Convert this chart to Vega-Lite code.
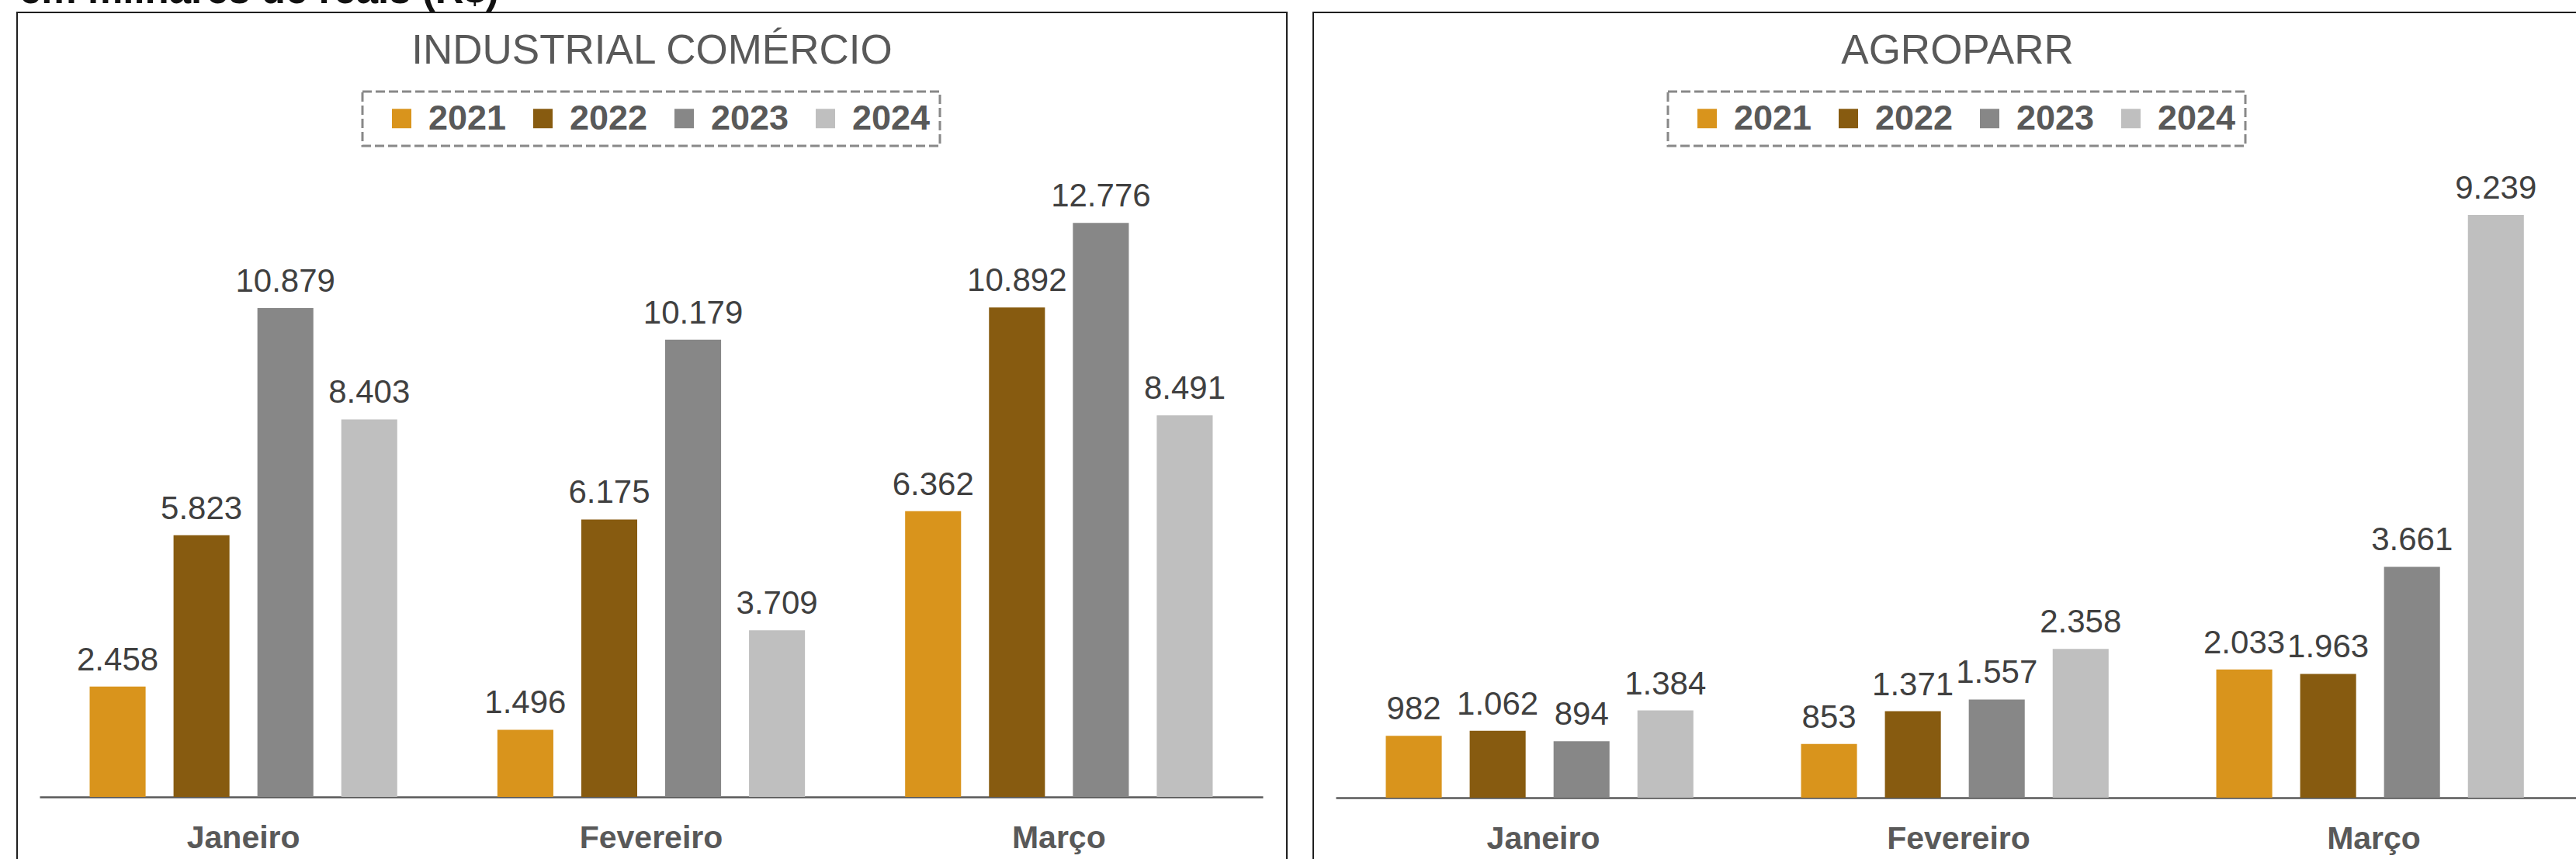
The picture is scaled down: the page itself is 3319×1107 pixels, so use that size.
{
  "$schema": "https://vega.github.io/schema/vega-lite/v6.json",
  "background": "white",
  "padding": {"left": 21, "top": -37, "right": -8, "bottom": -8},
  "spacing": 32,
  "title": {"text": "em milhares de reais (R$)", "anchor": "start", "frame": "bounds", "font": "Liberation Sans", "fontSize": 51, "fontWeight": "bold", "color": "#111111", "baseline": "alphabetic", "offset": -40, "dx": 4},
  "datasets": {
    "ind": [
      {"mes": "Janeiro", "ano": "2021", "valor": 2458},
      {"mes": "Janeiro", "ano": "2022", "valor": 5823},
      {"mes": "Janeiro", "ano": "2023", "valor": 10879},
      {"mes": "Janeiro", "ano": "2024", "valor": 8403},
      {"mes": "Fevereiro", "ano": "2021", "valor": 1496},
      {"mes": "Fevereiro", "ano": "2022", "valor": 6175},
      {"mes": "Fevereiro", "ano": "2023", "valor": 10179},
      {"mes": "Fevereiro", "ano": "2024", "valor": 3709},
      {"mes": "Março", "ano": "2021", "valor": 6362},
      {"mes": "Março", "ano": "2022", "valor": 10892},
      {"mes": "Março", "ano": "2023", "valor": 12776},
      {"mes": "Março", "ano": "2024", "valor": 8491}
    ],
    "agro": [
      {"mes": "Janeiro", "ano": "2021", "valor": 982},
      {"mes": "Janeiro", "ano": "2022", "valor": 1062},
      {"mes": "Janeiro", "ano": "2023", "valor": 894},
      {"mes": "Janeiro", "ano": "2024", "valor": 1384},
      {"mes": "Fevereiro", "ano": "2021", "valor": 853},
      {"mes": "Fevereiro", "ano": "2022", "valor": 1371},
      {"mes": "Fevereiro", "ano": "2023", "valor": 1557},
      {"mes": "Fevereiro", "ano": "2024", "valor": 2358},
      {"mes": "Março", "ano": "2021", "valor": 2033},
      {"mes": "Março", "ano": "2022", "valor": 1963},
      {"mes": "Março", "ano": "2023", "valor": 3661},
      {"mes": "Março", "ano": "2024", "valor": 9239}
    ]
  },
  "resolve": {"scale": {"color": "independent", "x": "independent", "y": "independent"}, "legend": {"color": "independent"}},
  "hconcat": [
    {
      "width": 1636,
      "height": 1100,
      "data": {"name": "ind"},
      "title": {"text": "INDUSTRIAL COMÉRCIO", "font": "Liberation Sans", "fontSize": 53, "fontWeight": "normal", "color": "#595959", "anchor": "middle", "baseline": "alphabetic", "offset": -119},
      "encoding": {
        "x": {"field": "mes", "type": "nominal", "sort": ["Janeiro", "Fevereiro", "Março"],
              "scale": {"range": [29, 1605], "paddingInner": 0, "paddingOuter": 0},
              "axis": {"title": null, "labelAngle": 0, "labelLimit": 600, "labelFont": "Liberation Sans", "labelFontSize": 41, "labelFontWeight": "bold", "labelColor": "#595959", "ticks": false, "tickSize": 0, "labelPadding": 65, "labelBaseline": "alphabetic", "domainColor": "#595959", "domainWidth": 2.5, "offset": -89, "grid": false}},
        "xOffset": {"field": "ano", "type": "nominal", "scale": {"paddingInner": 0.333, "paddingOuter": 0.597}},
        "y": {"field": "valor", "type": "quantitative", "scale": {"domain": [-1537, 17461], "nice": false}, "axis": null}
      },
      "layer": [
        {
          "mark": {"type": "bar"},
          "encoding": {
            "y2": {"datum": 0},
            "color": {"field": "ano", "type": "nominal",
                      "scale": {"domain": ["2021", "2022", "2023", "2024"], "range": ["#D9941C", "#875B10", "#878787", "#BFBFBF"]},
                      "legend": {"orient": "none", "legendX": 445, "legendY": 102, "direction": "horizontal", "title": " ", "titleOrient": "left", "titleFontSize": 40, "titlePadding": 16, "labelFont": "Liberation Sans", "labelFontSize": 45, "labelFontWeight": "bold", "labelColor": "#595959", "symbolType": "square", "symbolSize": 625, "symbolStrokeWidth": 0, "labelOffset": 12, "columnPadding": 24, "padding": 12, "strokeColor": "#888888"}}
          }
        },
        {
          "mark": {"type": "text", "baseline": "alphabetic", "dy": -21, "font": "Liberation Sans", "fontSize": 42, "color": "#404040"},
          "encoding": {"text": {"field": "valor", "type": "quantitative", "format": ",d"}}
        }
      ]
    },
    {
      "width": 1638,
      "height": 1100,
      "data": {"name": "agro"},
      "title": {"text": "AGROPARR", "font": "Liberation Sans", "fontSize": 53, "fontWeight": "normal", "color": "#595959", "anchor": "middle", "baseline": "alphabetic", "offset": -119, "dx": 11},
      "encoding": {
        "x": {"field": "mes", "type": "nominal", "sort": ["Janeiro", "Fevereiro", "Março"],
              "scale": {"range": [29, 1634], "paddingInner": 0, "paddingOuter": 0},
              "axis": {"title": null, "labelAngle": 0, "labelLimit": 600, "labelFont": "Liberation Sans", "labelFontSize": 41, "labelFontWeight": "bold", "labelColor": "#595959", "ticks": false, "tickSize": 0, "labelPadding": 65, "labelBaseline": "alphabetic", "domainColor": "#595959", "domainWidth": 2.5, "offset": -88, "grid": false}},
        "xOffset": {"field": "ano", "type": "nominal", "scale": {"paddingInner": 0.333, "paddingOuter": 0.6}},
        "y": {"field": "valor", "type": "quantitative", "scale": {"domain": [-1082, 12448], "nice": false}, "axis": null}
      },
      "layer": [
        {
          "mark": {"type": "bar"},
          "encoding": {
            "y2": {"datum": 0},
            "color": {"field": "ano", "type": "nominal",
                      "scale": {"domain": ["2021", "2022", "2023", "2024"], "range": ["#D9941C", "#875B10", "#878787", "#BFBFBF"]},
                      "legend": {"orient": "none", "legendX": 457, "legendY": 102, "direction": "horizontal", "title": " ", "titleOrient": "left", "titleFontSize": 40, "titlePadding": 16, "labelFont": "Liberation Sans", "labelFontSize": 45, "labelFontWeight": "bold", "labelColor": "#595959", "symbolType": "square", "symbolSize": 625, "symbolStrokeWidth": 0, "labelOffset": 12, "columnPadding": 24, "padding": 12, "strokeColor": "#888888"}}
          }
        },
        {
          "mark": {"type": "text", "baseline": "alphabetic", "dy": -21, "font": "Liberation Sans", "fontSize": 42, "color": "#404040"},
          "encoding": {"text": {"field": "valor", "type": "quantitative", "format": ",d"}}
        }
      ]
    }
  ],
  "config": {
    "font": "Liberation Sans",
    "locale": {"number": {"decimal": ",", "thousands": ".", "grouping": [3], "currency": ["R$ ", ""]}},
    "view": {"stroke": "#1f1f1f", "strokeWidth": 2},
    "axis": {"grid": false},
    "legend": {"strokeDash": [12, 5], "strokeWidth": 3}
  }
}
